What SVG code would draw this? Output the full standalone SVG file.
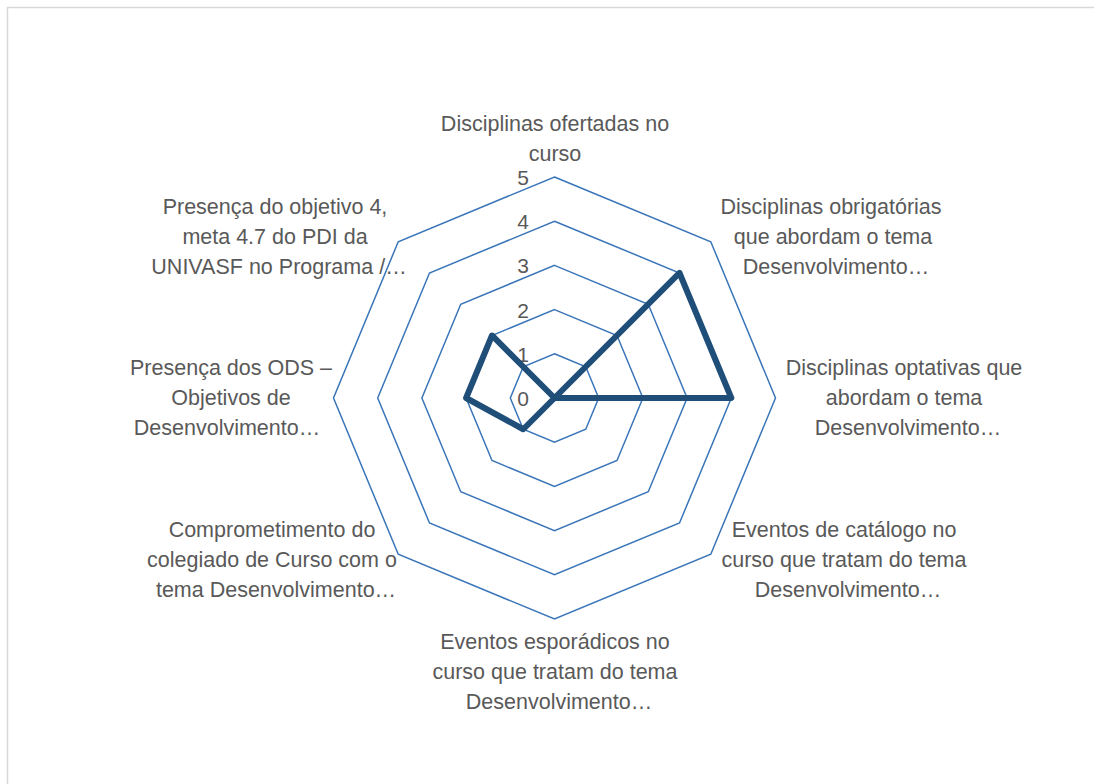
<svg xmlns="http://www.w3.org/2000/svg" width="1094" height="784" viewBox="0 0 1094 784">
<style>
.ring{fill:none;stroke:#3A75B8;stroke-width:1.5}
.lbl{font-family:"Liberation Sans",Arial,sans-serif;font-size:21.5px;fill:#595959;text-anchor:middle}
.tick{font-family:"Liberation Sans",Arial,sans-serif;font-size:21px;fill:#595959;text-anchor:end}
.data{fill:none;stroke:#1F4E79;stroke-width:6;stroke-linejoin:round}
</style>
<rect x="0" y="0" width="1094" height="784" fill="#FFFFFF"/>
<rect x="7.5" y="7.5" width="1100" height="800" fill="none" stroke="#D9D9D9" stroke-width="1.5"/>
<g id="grid">
<polygon class="ring" points="554.5,353.8 585.75,366.75 598.7,398 585.75,429.25 554.5,442.2 523.25,429.25 510.3,398 523.25,366.75"/>
<polygon class="ring" points="554.5,309.6 617.01,335.49 642.9,398 617.01,460.51 554.5,486.4 491.99,460.51 466.1,398 491.99,335.49"/>
<polygon class="ring" points="554.5,265.4 648.26,304.24 687.1,398 648.26,491.76 554.5,530.6 460.74,491.76 421.9,398 460.74,304.24"/>
<polygon class="ring" points="554.5,221.2 679.52,272.98 731.3,398 679.52,523.02 554.5,574.8 429.48,523.02 377.7,398 429.48,272.98"/>
<polygon class="ring" points="554.5,177 710.77,241.73 775.5,398 710.77,554.27 554.5,619 398.23,554.27 333.5,398 398.23,241.73"/>
</g>
<g id="ticks">
<text class="tick" x="529" y="406">0</text>
<text class="tick" x="529" y="361.8">1</text>
<text class="tick" x="529" y="317.6">2</text>
<text class="tick" x="529" y="273.4">3</text>
<text class="tick" x="529" y="229.2">4</text>
<text class="tick" x="529" y="185">5</text>
</g>
<g id="connectors">
<polygon class="data" points="554.5,398 679.52,272.98 731.3,398 554.5,398 554.5,398 523.25,429.25 466.1,398 491.99,335.49"/>
</g>
<g id="label-0">
<text class="lbl" x="555" y="131">Disciplinas ofertadas no</text>
<text class="lbl" x="555" y="161">curso</text>
</g>
<g id="label-1">
<text class="lbl" x="831" y="214">Disciplinas obrigatórias</text>
<text class="lbl" x="833" y="244">que abordam o tema</text>
<text class="lbl" x="836" y="274">Desenvolvimento…</text>
</g>
<g id="label-2">
<text class="lbl" x="904" y="375">Disciplinas optativas que</text>
<text class="lbl" x="904" y="405">abordam o tema</text>
<text class="lbl" x="908" y="435">Desenvolvimento…</text>
</g>
<g id="label-3">
<text class="lbl" x="844" y="537">Eventos de catálogo no</text>
<text class="lbl" x="844" y="567">curso que tratam do tema</text>
<text class="lbl" x="848" y="597">Desenvolvimento…</text>
</g>
<g id="label-4">
<text class="lbl" x="555" y="649">Eventos esporádicos no</text>
<text class="lbl" x="555" y="679">curso que tratam do tema</text>
<text class="lbl" x="559" y="709">Desenvolvimento…</text>
</g>
<g id="label-5">
<text class="lbl" x="272" y="537">Comprometimento do</text>
<text class="lbl" x="272" y="567">colegiado de Curso com o</text>
<text class="lbl" x="276" y="597">tema Desenvolvimento…</text>
</g>
<g id="label-6">
<text class="lbl" x="231" y="375">Presença dos ODS –</text>
<text class="lbl" x="231" y="405">Objetivos de</text>
<text class="lbl" x="227" y="435">Desenvolvimento…</text>
</g>
<g id="label-7">
<text class="lbl" x="275" y="214">Presença do objetivo 4,</text>
<text class="lbl" x="275" y="244">meta 4.7 do PDI da</text>
<text class="lbl" x="279" y="274">UNIVASF no Programa /…</text>
</g>
</svg>
